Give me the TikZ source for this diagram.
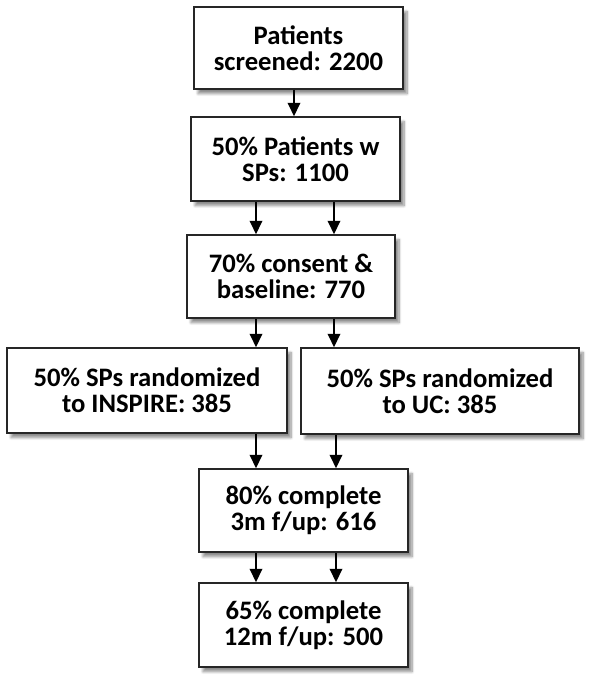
\documentclass[tikz,border=0pt]{standalone}
\usepackage{fontspec}
\setmainfont{Carlito}
\usetikzlibrary{arrows.meta,shadows.blur}

\begin{document}
\begin{tikzpicture}[x=0.75pt,y=0.75pt,yscale=-1,xscale=1,
  box/.style={draw=black!85, line width=1.3pt, fill=white, align=center, inner sep=0pt,
    font=\fontsize{20}{19.5}\selectfont\bfseries,
    blur shadow={shadow xshift=3pt, shadow yshift=-3.5pt, shadow blur steps=8, shadow opacity=45}},
  arr/.style={line width=1.2pt, -{Triangle[width=9.5pt,length=10pt]}}]
\useasboundingbox (0,0) rectangle (597,685);

%Columns of the arrows
\coordinate (colA) at (294,0);
\coordinate (colL) at (256,0);
\coordinate (colR) at (334,0);
\coordinate (colRR) at (336,0);

% Boxes
\node [box, minimum width=156.75pt, minimum height=61.5pt] (screen) at (298.5,48) {Patients\\screened: 2200};
\node [box, minimum width=156.75pt, minimum height=63pt] (sps) at (295.5,159) {50\% Patients w\\SPs: 1100};
\node [box, minimum width=156pt, minimum height=62.25pt] (consent) at (291,276.5) {70\% consent \&\\baseline: 770};
\node [box, minimum width=210pt, minimum height=63.75pt] (inspire) at (147,390.5) {50\% SPs randomized\\to INSPIRE: 385};
\node [box, minimum width=208.5pt, minimum height=64.5pt] (uc) at (440,391) {50\% SPs randomized\\to UC: 385};
\node [box, minimum width=156.75pt, minimum height=62.25pt] (fup3) at (303.5,510.5) {80\% complete\\3m f/up: 616};
\node [box, minimum width=156.75pt, minimum height=63pt] (fup12) at (303.5,625) {65\% complete\\12m f/up: 500};

% Arrows
\draw [arr] (screen.south -| colA) -- (sps.north -| colA);
\draw [arr] (sps.south -| colL) -- (consent.north -| colL);
\draw [arr] (sps.south -| colR) -- (consent.north -| colR);
\draw [arr] (consent.south -| colL) -- (inspire.north -| colL);
\draw [arr] (consent.south -| colR) -- (uc.north -| colR);
\draw [arr] (inspire.south -| colL) -- (fup3.north -| colL);
\draw [arr] (uc.south -| colRR) -- (fup3.north -| colRR);
\draw [arr] (fup3.south -| colL) -- (fup12.north -| colL);
\draw [arr] (fup3.south -| colRR) -- (fup12.north -| colRR);

\end{tikzpicture}
\end{document}
